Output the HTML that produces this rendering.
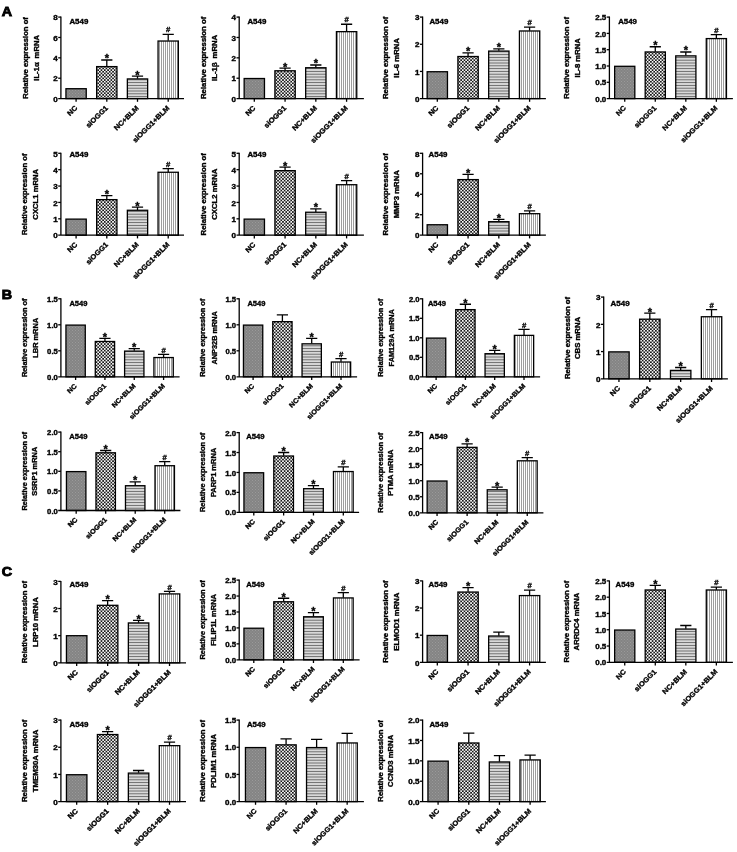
<!DOCTYPE html>
<html><head><meta charset="utf-8"><title>Figure</title>
<style>html,body{margin:0;padding:0;background:#fff}svg{display:block}text{font-family:"Liberation Sans",Arial,sans-serif;font-weight:bold;fill:#000}.t{font-size:7.0px;stroke:#000;stroke-width:.35px}.p{font-size:13px;stroke:#000;stroke-width:.9px}</style></head>
<body>
<svg width="737" height="852" viewBox="0 0 737 852">
<defs>
<pattern id="p1" width="3" height="3" patternUnits="userSpaceOnUse"><rect width="3" height="3" fill="#848484"/><rect width="1" height="1" fill="#9a9a9a"/><rect x="1.5" y="1.5" width="1" height="1" fill="#9a9a9a"/></pattern>
<pattern id="p2" width="3.3" height="3.3" patternUnits="userSpaceOnUse"><rect width="3.3" height="3.3" fill="#1a1a1a"/><rect x="0" y="0" width="1.62" height="1.62" fill="#fff"/><rect x="1.65" y="1.65" width="1.62" height="1.62" fill="#fff"/></pattern>
<pattern id="p3" width="2.8" height="2.8" patternUnits="userSpaceOnUse"><rect width="2.8" height="2.8" fill="#fff"/><rect y="0.7" width="2.8" height="1.4" fill="#6a6a6a"/></pattern>
<pattern id="p4" width="2" height="2" patternUnits="userSpaceOnUse"><rect width="2" height="2" fill="#fff"/><rect x="1" width="1" height="2" fill="#9e9e9e"/></pattern>
</defs>
<rect width="737" height="852" fill="#fff"/>
<text class="p" transform="translate(1.8,16.3) scale(1.1,1)">A</text>
<text class="p" transform="translate(1.8,299.2) scale(1.1,1)">B</text>
<text class="p" transform="translate(1.8,576.2) scale(1.1,1)">C</text>
<g>
<rect x="65.95" y="88.71" width="20.29" height="9.89" fill="url(#p1)" stroke="#000" stroke-width="1.3"/>
<path d="M76.09 98.6V101.8" stroke="#000" stroke-width="1.3"/>
<text class="t" text-anchor="end" transform="translate(77.79,108.5) rotate(-45) scale(1.08,1)">NC</text>
<path d="M106.8 66.31V59.99M101.2 59.99H112.4" stroke="#000" stroke-width="1.3" fill="none"/>
<rect x="96.65" y="66.61" width="20.29" height="31.99" fill="url(#p2)" stroke="#000" stroke-width="1.3"/>
<path d="M106.8 98.6V101.8" stroke="#000" stroke-width="1.3"/>
<text class="t" style="font-size:11px" text-anchor="middle" x="106.8" y="62.49">*</text>
<text class="t" text-anchor="end" transform="translate(108.5,108.5) rotate(-45) scale(1.08,1)">siOGG1</text>
<path d="M137.5 78.63V76.19M131.9 76.19H143.1" stroke="#000" stroke-width="1.3" fill="none"/>
<rect x="127.36" y="78.93" width="20.29" height="19.67" fill="url(#p3)" stroke="#000" stroke-width="1.3"/>
<path d="M137.5 98.6V101.8" stroke="#000" stroke-width="1.3"/>
<text class="t" style="font-size:11px" text-anchor="middle" x="137.5" y="78.69">*</text>
<text class="t" text-anchor="end" transform="translate(139.2,108.5) rotate(-45) scale(1.08,1)">NC+BLM</text>
<path d="M168.21 40.73V34.32M162.61 34.32H173.81" stroke="#000" stroke-width="1.3" fill="none"/>
<rect x="158.06" y="41.03" width="20.29" height="57.56" fill="url(#p4)" stroke="#000" stroke-width="1.3"/>
<path d="M168.21 98.6V101.8" stroke="#000" stroke-width="1.3"/>
<text class="t" style="font-size:6.4px;stroke-width:.28px" text-anchor="middle" transform="translate(168.21,32.42) scale(1.2,1)">#</text>
<text class="t" text-anchor="end" transform="translate(169.91,108.5) rotate(-45) scale(1.08,1)">siOGG1+BLM</text>
<path d="M60.9 16.6V98.6M58.2 98.6H184" stroke="#000" stroke-width="1.3" fill="none"/>
<text class="t" style="font-size:6.7px" text-anchor="end" transform="translate(57.8,101.8) scale(1.2,1)">0</text>
<path d="M58.2 78.22H60.9" stroke="#000" stroke-width="1.3"/>
<text class="t" style="font-size:6.7px" text-anchor="end" transform="translate(57.8,81.42) scale(1.2,1)">2</text>
<path d="M58.2 57.85H60.9" stroke="#000" stroke-width="1.3"/>
<text class="t" style="font-size:6.7px" text-anchor="end" transform="translate(57.8,61.05) scale(1.2,1)">4</text>
<path d="M58.2 37.47H60.9" stroke="#000" stroke-width="1.3"/>
<text class="t" style="font-size:6.7px" text-anchor="end" transform="translate(57.8,40.67) scale(1.2,1)">6</text>
<path d="M58.2 17.1H60.9" stroke="#000" stroke-width="1.3"/>
<text class="t" style="font-size:6.7px" text-anchor="end" transform="translate(57.8,20.3) scale(1.2,1)">8</text>
<text class="t" transform="translate(69.4,23.8) scale(1.13,1)">A549</text>
<text class="t" text-anchor="middle" transform="translate(28.4,57.85) rotate(-90) scale(1.1,1)">Relative expression of</text>
<text class="t" text-anchor="middle" transform="translate(38.8,57.85) rotate(-90) scale(1.1,1)" style="word-spacing:1.6px">IL-1α mRNA</text>
</g>
<g>
<rect x="244.15" y="78.52" width="20.32" height="20.07" fill="url(#p1)" stroke="#000" stroke-width="1.3"/>
<path d="M254.31 98.6V101.8" stroke="#000" stroke-width="1.3"/>
<text class="t" text-anchor="end" transform="translate(256.01,108.51) rotate(-45) scale(1.09,1)">NC</text>
<path d="M285.07 70.48V68.04M279.47 68.04H290.67" stroke="#000" stroke-width="1.3" fill="none"/>
<rect x="274.91" y="70.78" width="20.32" height="27.82" fill="url(#p2)" stroke="#000" stroke-width="1.3"/>
<path d="M285.07 98.6V101.8" stroke="#000" stroke-width="1.3"/>
<text class="t" style="font-size:11px" text-anchor="middle" x="285.07" y="70.54">*</text>
<text class="t" text-anchor="end" transform="translate(286.77,108.51) rotate(-45) scale(1.09,1)">siOGG1</text>
<path d="M315.83 67.43V64.98M310.23 64.98H321.43" stroke="#000" stroke-width="1.3" fill="none"/>
<rect x="305.67" y="67.73" width="20.32" height="30.87" fill="url(#p3)" stroke="#000" stroke-width="1.3"/>
<path d="M315.83 98.6V101.8" stroke="#000" stroke-width="1.3"/>
<text class="t" style="font-size:11px" text-anchor="middle" x="315.83" y="67.48">*</text>
<text class="t" text-anchor="end" transform="translate(317.53,108.51) rotate(-45) scale(1.09,1)">NC+BLM</text>
<path d="M346.59 31.36V24.23M340.99 24.23H352.19" stroke="#000" stroke-width="1.3" fill="none"/>
<rect x="336.43" y="31.66" width="20.32" height="66.94" fill="url(#p4)" stroke="#000" stroke-width="1.3"/>
<path d="M346.59 98.6V101.8" stroke="#000" stroke-width="1.3"/>
<text class="t" style="font-size:6.4px;stroke-width:.28px" text-anchor="middle" transform="translate(346.59,22.33) scale(1.2,1)">#</text>
<text class="t" text-anchor="end" transform="translate(348.29,108.51) rotate(-45) scale(1.09,1)">siOGG1+BLM</text>
<path d="M239.2 16.6V98.6M236.5 98.6H363.9" stroke="#000" stroke-width="1.3" fill="none"/>
<text class="t" style="font-size:6.7px" text-anchor="end" transform="translate(236.1,101.81) scale(1.2,1)">0</text>
<path d="M236.5 78.22H239.2" stroke="#000" stroke-width="1.3"/>
<text class="t" style="font-size:6.7px" text-anchor="end" transform="translate(236.1,81.43) scale(1.2,1)">1</text>
<path d="M236.5 57.85H239.2" stroke="#000" stroke-width="1.3"/>
<text class="t" style="font-size:6.7px" text-anchor="end" transform="translate(236.1,61.06) scale(1.2,1)">2</text>
<path d="M236.5 37.47H239.2" stroke="#000" stroke-width="1.3"/>
<text class="t" style="font-size:6.7px" text-anchor="end" transform="translate(236.1,40.68) scale(1.2,1)">3</text>
<path d="M236.5 17.1H239.2" stroke="#000" stroke-width="1.3"/>
<text class="t" style="font-size:6.7px" text-anchor="end" transform="translate(236.1,20.31) scale(1.2,1)">4</text>
<text class="t" transform="translate(247.4,23.8) scale(1.13,1)">A549</text>
<text class="t" text-anchor="middle" transform="translate(205.8,57.85) rotate(-90) scale(1.11,1)">Relative expression of</text>
<text class="t" text-anchor="middle" transform="translate(216.8,57.85) rotate(-90) scale(1.11,1)" style="word-spacing:1.6px">IL-1β mRNA</text>
</g>
<g>
<rect x="427.15" y="71.73" width="20.32" height="26.87" fill="url(#p1)" stroke="#000" stroke-width="1.3"/>
<path d="M437.31 98.6V101.8" stroke="#000" stroke-width="1.3"/>
<text class="t" text-anchor="end" transform="translate(439.01,108.51) rotate(-45) scale(1.09,1)">NC</text>
<path d="M468.07 56.22V52.96M462.47 52.96H473.67" stroke="#000" stroke-width="1.3" fill="none"/>
<rect x="457.91" y="56.52" width="20.32" height="42.08" fill="url(#p2)" stroke="#000" stroke-width="1.3"/>
<path d="M468.07 98.6V101.8" stroke="#000" stroke-width="1.3"/>
<text class="t" style="font-size:11px" text-anchor="middle" x="468.07" y="55.46">*</text>
<text class="t" text-anchor="end" transform="translate(469.77,108.51) rotate(-45) scale(1.09,1)">siOGG1</text>
<path d="M498.83 50.79V48.88M493.23 48.88H504.43" stroke="#000" stroke-width="1.3" fill="none"/>
<rect x="488.67" y="51.09" width="20.32" height="47.51" fill="url(#p3)" stroke="#000" stroke-width="1.3"/>
<path d="M498.83 98.6V101.8" stroke="#000" stroke-width="1.3"/>
<text class="t" style="font-size:11px" text-anchor="middle" x="498.83" y="51.38">*</text>
<text class="t" text-anchor="end" transform="translate(500.53,108.51) rotate(-45) scale(1.09,1)">NC+BLM</text>
<path d="M529.59 30.68V27.15M523.99 27.15H535.19" stroke="#000" stroke-width="1.3" fill="none"/>
<rect x="519.43" y="30.98" width="20.32" height="67.62" fill="url(#p4)" stroke="#000" stroke-width="1.3"/>
<path d="M529.59 98.6V101.8" stroke="#000" stroke-width="1.3"/>
<text class="t" style="font-size:6.4px;stroke-width:.28px" text-anchor="middle" transform="translate(529.59,25.25) scale(1.2,1)">#</text>
<text class="t" text-anchor="end" transform="translate(531.29,108.51) rotate(-45) scale(1.09,1)">siOGG1+BLM</text>
<path d="M422.6 16.6V98.6M419.9 98.6H545.9" stroke="#000" stroke-width="1.3" fill="none"/>
<text class="t" style="font-size:6.7px" text-anchor="end" transform="translate(419.5,101.81) scale(1.2,1)">0</text>
<path d="M419.9 71.43H422.6" stroke="#000" stroke-width="1.3"/>
<text class="t" style="font-size:6.7px" text-anchor="end" transform="translate(419.5,74.64) scale(1.2,1)">1</text>
<path d="M419.9 44.27H422.6" stroke="#000" stroke-width="1.3"/>
<text class="t" style="font-size:6.7px" text-anchor="end" transform="translate(419.5,47.47) scale(1.2,1)">2</text>
<path d="M419.9 17.1H422.6" stroke="#000" stroke-width="1.3"/>
<text class="t" style="font-size:6.7px" text-anchor="end" transform="translate(419.5,20.31) scale(1.2,1)">3</text>
<text class="t" transform="translate(429.4,23.8) scale(1.13,1)">A549</text>
<text class="t" text-anchor="middle" transform="translate(388.3,57.85) rotate(-90) scale(1.11,1)">Relative expression of</text>
<text class="t" text-anchor="middle" transform="translate(398.7,57.85) rotate(-90) scale(1.11,1)">IL-6 mRNA</text>
</g>
<g>
<rect x="614.65" y="66.3" width="20.17" height="32.3" fill="url(#p1)" stroke="#000" stroke-width="1.3"/>
<path d="M624.74 98.6V101.8" stroke="#000" stroke-width="1.3"/>
<text class="t" text-anchor="end" transform="translate(626.44,108.47) rotate(-45) scale(1.08,0.99)">NC</text>
<path d="M655.28 51.66V46.77M649.68 46.77H660.88" stroke="#000" stroke-width="1.3" fill="none"/>
<rect x="645.19" y="51.96" width="20.17" height="46.64" fill="url(#p2)" stroke="#000" stroke-width="1.3"/>
<path d="M655.28 98.6V101.8" stroke="#000" stroke-width="1.3"/>
<text class="t" style="font-size:11px" text-anchor="middle" x="655.28" y="49.27">*</text>
<text class="t" text-anchor="end" transform="translate(656.98,108.47) rotate(-45) scale(1.08,0.99)">siOGG1</text>
<path d="M685.82 55.57V51.98M680.22 51.98H691.42" stroke="#000" stroke-width="1.3" fill="none"/>
<rect x="675.74" y="55.87" width="20.17" height="42.73" fill="url(#p3)" stroke="#000" stroke-width="1.3"/>
<path d="M685.82 98.6V101.8" stroke="#000" stroke-width="1.3"/>
<text class="t" style="font-size:11px" text-anchor="middle" x="685.82" y="54.48">*</text>
<text class="t" text-anchor="end" transform="translate(687.52,108.47) rotate(-45) scale(1.08,0.99)">NC+BLM</text>
<path d="M716.36 38.29V34.7M710.76 34.7H721.96" stroke="#000" stroke-width="1.3" fill="none"/>
<rect x="706.28" y="38.59" width="20.17" height="60.01" fill="url(#p4)" stroke="#000" stroke-width="1.3"/>
<path d="M716.36 98.6V101.8" stroke="#000" stroke-width="1.3"/>
<text class="t" style="font-size:6.4px;stroke-width:.28px" text-anchor="middle" transform="translate(716.36,32.8) scale(1.2,1)">#</text>
<text class="t" text-anchor="end" transform="translate(718.06,108.47) rotate(-45) scale(1.08,0.99)">siOGG1+BLM</text>
<path d="M609.4 16.6V98.6M606.7 98.6H732.9" stroke="#000" stroke-width="1.3" fill="none"/>
<text class="t" style="font-size:6.7px" text-anchor="end" transform="translate(606.3,101.78) scale(1.19,0.99)">0.0</text>
<path d="M606.7 82.3H609.4" stroke="#000" stroke-width="1.3"/>
<text class="t" style="font-size:6.7px" text-anchor="end" transform="translate(606.3,85.48) scale(1.19,0.99)">0.5</text>
<path d="M606.7 66H609.4" stroke="#000" stroke-width="1.3"/>
<text class="t" style="font-size:6.7px" text-anchor="end" transform="translate(606.3,69.18) scale(1.19,0.99)">1.0</text>
<path d="M606.7 49.7H609.4" stroke="#000" stroke-width="1.3"/>
<text class="t" style="font-size:6.7px" text-anchor="end" transform="translate(606.3,52.88) scale(1.19,0.99)">1.5</text>
<path d="M606.7 33.4H609.4" stroke="#000" stroke-width="1.3"/>
<text class="t" style="font-size:6.7px" text-anchor="end" transform="translate(606.3,36.58) scale(1.19,0.99)">2.0</text>
<path d="M606.7 17.1H609.4" stroke="#000" stroke-width="1.3"/>
<text class="t" style="font-size:6.7px" text-anchor="end" transform="translate(606.3,20.28) scale(1.19,0.99)">2.5</text>
<text class="t" transform="translate(618.2,23.8) scale(1.12,0.99)">A549</text>
<text class="t" text-anchor="middle" transform="translate(569.1,57.85) rotate(-90) scale(1.1,0.99)">Relative expression of</text>
<text class="t" text-anchor="middle" transform="translate(580,57.85) rotate(-90) scale(1.1,0.99)">IL-8 mRNA</text>
</g>
<g>
<rect x="65.95" y="219.12" width="20.29" height="16.08" fill="url(#p1)" stroke="#000" stroke-width="1.3"/>
<path d="M76.09 235.2V238.4" stroke="#000" stroke-width="1.3"/>
<text class="t" text-anchor="end" transform="translate(77.79,245.1) rotate(-45) scale(1.08,1)">NC</text>
<path d="M106.8 199.33V195.56M101.2 195.56H112.4" stroke="#000" stroke-width="1.3" fill="none"/>
<rect x="96.65" y="199.63" width="20.29" height="35.57" fill="url(#p2)" stroke="#000" stroke-width="1.3"/>
<path d="M106.8 235.2V238.4" stroke="#000" stroke-width="1.3"/>
<text class="t" style="font-size:11px" text-anchor="middle" x="106.8" y="198.06">*</text>
<text class="t" text-anchor="end" transform="translate(108.5,245.1) rotate(-45) scale(1.08,1)">siOGG1</text>
<path d="M137.5 209.97V207.19M131.9 207.19H143.1" stroke="#000" stroke-width="1.3" fill="none"/>
<rect x="127.36" y="210.27" width="20.29" height="24.93" fill="url(#p3)" stroke="#000" stroke-width="1.3"/>
<path d="M137.5 235.2V238.4" stroke="#000" stroke-width="1.3"/>
<text class="t" style="font-size:11px" text-anchor="middle" x="137.5" y="209.69">*</text>
<text class="t" text-anchor="end" transform="translate(139.2,245.1) rotate(-45) scale(1.08,1)">NC+BLM</text>
<path d="M168.21 171.97V168.53M162.61 168.53H173.81" stroke="#000" stroke-width="1.3" fill="none"/>
<rect x="158.06" y="172.27" width="20.29" height="62.93" fill="url(#p4)" stroke="#000" stroke-width="1.3"/>
<path d="M168.21 235.2V238.4" stroke="#000" stroke-width="1.3"/>
<text class="t" style="font-size:6.4px;stroke-width:.28px" text-anchor="middle" transform="translate(168.21,166.63) scale(1.2,1)">#</text>
<text class="t" text-anchor="end" transform="translate(169.91,245.1) rotate(-45) scale(1.08,1)">siOGG1+BLM</text>
<path d="M60.9 152.8V235.2M58.2 235.2H184" stroke="#000" stroke-width="1.3" fill="none"/>
<text class="t" style="font-size:6.7px" text-anchor="end" transform="translate(57.8,238.4) scale(1.2,1)">0</text>
<path d="M58.2 218.82H60.9" stroke="#000" stroke-width="1.3"/>
<text class="t" style="font-size:6.7px" text-anchor="end" transform="translate(57.8,222.02) scale(1.2,1)">1</text>
<path d="M58.2 202.44H60.9" stroke="#000" stroke-width="1.3"/>
<text class="t" style="font-size:6.7px" text-anchor="end" transform="translate(57.8,205.64) scale(1.2,1)">2</text>
<path d="M58.2 186.06H60.9" stroke="#000" stroke-width="1.3"/>
<text class="t" style="font-size:6.7px" text-anchor="end" transform="translate(57.8,189.26) scale(1.2,1)">3</text>
<path d="M58.2 169.68H60.9" stroke="#000" stroke-width="1.3"/>
<text class="t" style="font-size:6.7px" text-anchor="end" transform="translate(57.8,172.88) scale(1.2,1)">4</text>
<path d="M58.2 153.3H60.9" stroke="#000" stroke-width="1.3"/>
<text class="t" style="font-size:6.7px" text-anchor="end" transform="translate(57.8,156.5) scale(1.2,1)">5</text>
<text class="t" transform="translate(69.4,157.3) scale(1.13,1)">A549</text>
<text class="t" text-anchor="middle" transform="translate(27.4,194.25) rotate(-90) scale(1.1,1)">Relative expression of</text>
<text class="t" text-anchor="middle" transform="translate(38.3,194.25) rotate(-90) scale(1.1,1)">CXCL1 mRNA</text>
</g>
<g>
<rect x="244.15" y="219.12" width="20.32" height="16.08" fill="url(#p1)" stroke="#000" stroke-width="1.3"/>
<path d="M254.31 235.2V238.4" stroke="#000" stroke-width="1.3"/>
<text class="t" text-anchor="end" transform="translate(256.01,245.11) rotate(-45) scale(1.09,1)">NC</text>
<path d="M285.07 170.34V167.06M279.47 167.06H290.67" stroke="#000" stroke-width="1.3" fill="none"/>
<rect x="274.91" y="170.64" width="20.32" height="64.56" fill="url(#p2)" stroke="#000" stroke-width="1.3"/>
<path d="M285.07 235.2V238.4" stroke="#000" stroke-width="1.3"/>
<text class="t" style="font-size:11px" text-anchor="middle" x="285.07" y="169.56">*</text>
<text class="t" text-anchor="end" transform="translate(286.77,245.11) rotate(-45) scale(1.09,1)">siOGG1</text>
<path d="M315.83 211.94V208.83M310.23 208.83H321.43" stroke="#000" stroke-width="1.3" fill="none"/>
<rect x="305.67" y="212.24" width="20.32" height="22.96" fill="url(#p3)" stroke="#000" stroke-width="1.3"/>
<path d="M315.83 235.2V238.4" stroke="#000" stroke-width="1.3"/>
<text class="t" style="font-size:11px" text-anchor="middle" x="315.83" y="211.33">*</text>
<text class="t" text-anchor="end" transform="translate(317.53,245.11) rotate(-45) scale(1.09,1)">NC+BLM</text>
<path d="M346.59 184.42V180.65M340.99 180.65H352.19" stroke="#000" stroke-width="1.3" fill="none"/>
<rect x="336.43" y="184.72" width="20.32" height="50.48" fill="url(#p4)" stroke="#000" stroke-width="1.3"/>
<path d="M346.59 235.2V238.4" stroke="#000" stroke-width="1.3"/>
<text class="t" style="font-size:6.4px;stroke-width:.28px" text-anchor="middle" transform="translate(346.59,178.75) scale(1.2,1)">#</text>
<text class="t" text-anchor="end" transform="translate(348.29,245.11) rotate(-45) scale(1.09,1)">siOGG1+BLM</text>
<path d="M239.2 152.8V235.2M236.5 235.2H363.9" stroke="#000" stroke-width="1.3" fill="none"/>
<text class="t" style="font-size:6.7px" text-anchor="end" transform="translate(236.1,238.41) scale(1.2,1)">0</text>
<path d="M236.5 218.82H239.2" stroke="#000" stroke-width="1.3"/>
<text class="t" style="font-size:6.7px" text-anchor="end" transform="translate(236.1,222.03) scale(1.2,1)">1</text>
<path d="M236.5 202.44H239.2" stroke="#000" stroke-width="1.3"/>
<text class="t" style="font-size:6.7px" text-anchor="end" transform="translate(236.1,205.65) scale(1.2,1)">2</text>
<path d="M236.5 186.06H239.2" stroke="#000" stroke-width="1.3"/>
<text class="t" style="font-size:6.7px" text-anchor="end" transform="translate(236.1,189.27) scale(1.2,1)">3</text>
<path d="M236.5 169.68H239.2" stroke="#000" stroke-width="1.3"/>
<text class="t" style="font-size:6.7px" text-anchor="end" transform="translate(236.1,172.89) scale(1.2,1)">4</text>
<path d="M236.5 153.3H239.2" stroke="#000" stroke-width="1.3"/>
<text class="t" style="font-size:6.7px" text-anchor="end" transform="translate(236.1,156.51) scale(1.2,1)">5</text>
<text class="t" transform="translate(247.4,157.3) scale(1.13,1)">A549</text>
<text class="t" text-anchor="middle" transform="translate(205.8,194.25) rotate(-90) scale(1.11,1)">Relative expression of</text>
<text class="t" text-anchor="middle" transform="translate(216.8,194.25) rotate(-90) scale(1.11,1)">CXCL2 mRNA</text>
</g>
<g>
<rect x="427.15" y="224.75" width="20.32" height="10.45" fill="url(#p1)" stroke="#000" stroke-width="1.3"/>
<path d="M437.31 235.2V238.4" stroke="#000" stroke-width="1.3"/>
<text class="t" text-anchor="end" transform="translate(439.01,245.11) rotate(-45) scale(1.09,1)">NC</text>
<path d="M468.07 179.3V174.39M462.47 174.39H473.67" stroke="#000" stroke-width="1.3" fill="none"/>
<rect x="457.91" y="179.6" width="20.32" height="55.6" fill="url(#p2)" stroke="#000" stroke-width="1.3"/>
<path d="M468.07 235.2V238.4" stroke="#000" stroke-width="1.3"/>
<text class="t" style="font-size:11px" text-anchor="middle" x="468.07" y="176.89">*</text>
<text class="t" text-anchor="end" transform="translate(469.77,245.11) rotate(-45) scale(1.09,1)">siOGG1</text>
<path d="M498.83 221.38V219.43M493.23 219.43H504.43" stroke="#000" stroke-width="1.3" fill="none"/>
<rect x="488.67" y="221.68" width="20.32" height="13.52" fill="url(#p3)" stroke="#000" stroke-width="1.3"/>
<path d="M498.83 235.2V238.4" stroke="#000" stroke-width="1.3"/>
<text class="t" style="font-size:11px" text-anchor="middle" x="498.83" y="221.93">*</text>
<text class="t" text-anchor="end" transform="translate(500.53,245.11) rotate(-45) scale(1.09,1)">NC+BLM</text>
<path d="M529.59 213.39V210.94M523.99 210.94H535.19" stroke="#000" stroke-width="1.3" fill="none"/>
<rect x="519.43" y="213.69" width="20.32" height="21.51" fill="url(#p4)" stroke="#000" stroke-width="1.3"/>
<path d="M529.59 235.2V238.4" stroke="#000" stroke-width="1.3"/>
<text class="t" style="font-size:6.4px;stroke-width:.28px" text-anchor="middle" transform="translate(529.59,209.04) scale(1.2,1)">#</text>
<text class="t" text-anchor="end" transform="translate(531.29,245.11) rotate(-45) scale(1.09,1)">siOGG1+BLM</text>
<path d="M422.6 152.8V235.2M419.9 235.2H545.9" stroke="#000" stroke-width="1.3" fill="none"/>
<text class="t" style="font-size:6.7px" text-anchor="end" transform="translate(419.5,238.41) scale(1.2,1)">0</text>
<path d="M419.9 214.72H422.6" stroke="#000" stroke-width="1.3"/>
<text class="t" style="font-size:6.7px" text-anchor="end" transform="translate(419.5,217.93) scale(1.2,1)">2</text>
<path d="M419.9 194.25H422.6" stroke="#000" stroke-width="1.3"/>
<text class="t" style="font-size:6.7px" text-anchor="end" transform="translate(419.5,197.46) scale(1.2,1)">4</text>
<path d="M419.9 173.78H422.6" stroke="#000" stroke-width="1.3"/>
<text class="t" style="font-size:6.7px" text-anchor="end" transform="translate(419.5,176.98) scale(1.2,1)">6</text>
<path d="M419.9 153.3H422.6" stroke="#000" stroke-width="1.3"/>
<text class="t" style="font-size:6.7px" text-anchor="end" transform="translate(419.5,156.51) scale(1.2,1)">8</text>
<text class="t" transform="translate(428.6,157.3) scale(1.13,1)">A549</text>
<text class="t" text-anchor="middle" transform="translate(388.3,194.25) rotate(-90) scale(1.11,1)">Relative expression of</text>
<text class="t" text-anchor="middle" transform="translate(398.7,194.25) rotate(-90) scale(1.11,1)">MMP3 mRNA</text>
</g>
<g>
<rect x="65.95" y="325.1" width="19.32" height="51.7" fill="url(#p1)" stroke="#000" stroke-width="1.3"/>
<path d="M75.61 376.8V380" stroke="#000" stroke-width="1.3"/>
<text class="t" text-anchor="end" transform="translate(77.31,386.43) rotate(-45) scale(1.04,0.95)">NC</text>
<path d="M104.94 341.18V338.32M99.34 338.32H110.54" stroke="#000" stroke-width="1.3" fill="none"/>
<rect x="95.28" y="341.48" width="19.32" height="35.32" fill="url(#p2)" stroke="#000" stroke-width="1.3"/>
<path d="M104.94 376.8V380" stroke="#000" stroke-width="1.3"/>
<text class="t" style="font-size:11px" text-anchor="middle" x="104.94" y="340.82">*</text>
<text class="t" text-anchor="end" transform="translate(106.64,386.43) rotate(-45) scale(1.04,0.95)">siOGG1</text>
<path d="M134.26 350.8V348.72M128.66 348.72H139.86" stroke="#000" stroke-width="1.3" fill="none"/>
<rect x="124.61" y="351.1" width="19.32" height="25.7" fill="url(#p3)" stroke="#000" stroke-width="1.3"/>
<path d="M134.26 376.8V380" stroke="#000" stroke-width="1.3"/>
<text class="t" style="font-size:11px" text-anchor="middle" x="134.26" y="351.22">*</text>
<text class="t" text-anchor="end" transform="translate(135.96,386.43) rotate(-45) scale(1.04,0.95)">NC+BLM</text>
<path d="M163.59 357.25V354.44M157.99 354.44H169.19" stroke="#000" stroke-width="1.3" fill="none"/>
<rect x="153.93" y="357.55" width="19.32" height="19.25" fill="url(#p4)" stroke="#000" stroke-width="1.3"/>
<path d="M163.59 376.8V380" stroke="#000" stroke-width="1.3"/>
<text class="t" style="font-size:6.4px;stroke-width:.28px" text-anchor="middle" transform="translate(163.59,352.54) scale(1.2,1)">#</text>
<text class="t" text-anchor="end" transform="translate(165.29,386.43) rotate(-45) scale(1.04,0.95)">siOGG1+BLM</text>
<path d="M60.9 298.3V376.8M58.2 376.8H179.6" stroke="#000" stroke-width="1.3" fill="none"/>
<text class="t" style="font-size:6.7px" text-anchor="end" transform="translate(57.8,379.86) scale(1.15,0.95)">0.0</text>
<path d="M58.2 350.8H60.9" stroke="#000" stroke-width="1.3"/>
<text class="t" style="font-size:6.7px" text-anchor="end" transform="translate(57.8,353.86) scale(1.15,0.95)">0.5</text>
<path d="M58.2 324.8H60.9" stroke="#000" stroke-width="1.3"/>
<text class="t" style="font-size:6.7px" text-anchor="end" transform="translate(57.8,327.86) scale(1.15,0.95)">1.0</text>
<path d="M58.2 298.8H60.9" stroke="#000" stroke-width="1.3"/>
<text class="t" style="font-size:6.7px" text-anchor="end" transform="translate(57.8,301.86) scale(1.15,0.95)">1.5</text>
<text class="t" transform="translate(69.4,305.5) scale(1.08,0.95)">A549</text>
<text class="t" text-anchor="middle" transform="translate(26.6,337.8) rotate(-90) scale(1.06,0.95)">Relative expression of</text>
<text class="t" text-anchor="middle" transform="translate(38.3,337.8) rotate(-90) scale(1.06,0.95)">LBR mRNA</text>
</g>
<g>
<rect x="243.45" y="325.1" width="19.3" height="51.7" fill="url(#p1)" stroke="#000" stroke-width="1.3"/>
<path d="M253.1 376.8V380" stroke="#000" stroke-width="1.3"/>
<text class="t" text-anchor="end" transform="translate(254.8,386.42) rotate(-45) scale(1.04,0.95)">NC</text>
<path d="M282.4 321.37V314.92M276.8 314.92H288" stroke="#000" stroke-width="1.3" fill="none"/>
<rect x="272.75" y="321.67" width="19.3" height="55.13" fill="url(#p2)" stroke="#000" stroke-width="1.3"/>
<path d="M282.4 376.8V380" stroke="#000" stroke-width="1.3"/>
<text class="t" text-anchor="end" transform="translate(284.1,386.42) rotate(-45) scale(1.04,0.95)">siOGG1</text>
<path d="M311.7 343.52V338.32M306.1 338.32H317.3" stroke="#000" stroke-width="1.3" fill="none"/>
<rect x="302.05" y="343.82" width="19.3" height="32.98" fill="url(#p3)" stroke="#000" stroke-width="1.3"/>
<path d="M311.7 376.8V380" stroke="#000" stroke-width="1.3"/>
<text class="t" style="font-size:11px" text-anchor="middle" x="311.7" y="340.82">*</text>
<text class="t" text-anchor="end" transform="translate(313.4,386.42) rotate(-45) scale(1.04,0.95)">NC+BLM</text>
<path d="M341 361.72V358.6M335.4 358.6H346.6" stroke="#000" stroke-width="1.3" fill="none"/>
<rect x="331.35" y="362.02" width="19.3" height="14.78" fill="url(#p4)" stroke="#000" stroke-width="1.3"/>
<path d="M341 376.8V380" stroke="#000" stroke-width="1.3"/>
<text class="t" style="font-size:6.4px;stroke-width:.28px" text-anchor="middle" transform="translate(341,356.7) scale(1.2,1)">#</text>
<text class="t" text-anchor="end" transform="translate(342.7,386.42) rotate(-45) scale(1.04,0.95)">siOGG1+BLM</text>
<path d="M239.2 298.3V376.8M236.5 376.8H357.1" stroke="#000" stroke-width="1.3" fill="none"/>
<text class="t" style="font-size:6.7px" text-anchor="end" transform="translate(236.1,379.85) scale(1.14,0.95)">0.0</text>
<path d="M236.5 350.8H239.2" stroke="#000" stroke-width="1.3"/>
<text class="t" style="font-size:6.7px" text-anchor="end" transform="translate(236.1,353.85) scale(1.14,0.95)">0.5</text>
<path d="M236.5 324.8H239.2" stroke="#000" stroke-width="1.3"/>
<text class="t" style="font-size:6.7px" text-anchor="end" transform="translate(236.1,327.85) scale(1.14,0.95)">1.0</text>
<path d="M236.5 298.8H239.2" stroke="#000" stroke-width="1.3"/>
<text class="t" style="font-size:6.7px" text-anchor="end" transform="translate(236.1,301.85) scale(1.14,0.95)">1.5</text>
<text class="t" transform="translate(247.4,305.5) scale(1.08,0.95)">A549</text>
<text class="t" text-anchor="middle" transform="translate(205.3,337.8) rotate(-90) scale(1.05,0.95)">Relative expression of</text>
<text class="t" text-anchor="middle" transform="translate(216.8,337.8) rotate(-90) scale(1.05,0.95)">ANP32B mRNA</text>
</g>
<g>
<rect x="426.45" y="338.1" width="19.3" height="38.7" fill="url(#p1)" stroke="#000" stroke-width="1.3"/>
<path d="M436.1 376.8V380" stroke="#000" stroke-width="1.3"/>
<text class="t" text-anchor="end" transform="translate(437.8,386.42) rotate(-45) scale(1.04,0.95)">NC</text>
<path d="M465.4 309.33V304.26M459.8 304.26H471" stroke="#000" stroke-width="1.3" fill="none"/>
<rect x="455.75" y="309.63" width="19.3" height="67.17" fill="url(#p2)" stroke="#000" stroke-width="1.3"/>
<path d="M465.4 376.8V380" stroke="#000" stroke-width="1.3"/>
<text class="t" style="font-size:11px" text-anchor="middle" x="465.4" y="306.76">*</text>
<text class="t" text-anchor="end" transform="translate(467.1,386.42) rotate(-45) scale(1.04,0.95)">siOGG1</text>
<path d="M494.7 353.4V350.28M489.1 350.28H500.3" stroke="#000" stroke-width="1.3" fill="none"/>
<rect x="485.05" y="353.7" width="19.3" height="23.1" fill="url(#p3)" stroke="#000" stroke-width="1.3"/>
<path d="M494.7 376.8V380" stroke="#000" stroke-width="1.3"/>
<text class="t" style="font-size:11px" text-anchor="middle" x="494.7" y="352.78">*</text>
<text class="t" text-anchor="end" transform="translate(496.4,386.42) rotate(-45) scale(1.04,0.95)">NC+BLM</text>
<path d="M524 335.07V329.42M518.4 329.42H529.6" stroke="#000" stroke-width="1.3" fill="none"/>
<rect x="514.35" y="335.37" width="19.3" height="41.43" fill="url(#p4)" stroke="#000" stroke-width="1.3"/>
<path d="M524 376.8V380" stroke="#000" stroke-width="1.3"/>
<text class="t" style="font-size:6.4px;stroke-width:.28px" text-anchor="middle" transform="translate(524,327.52) scale(1.2,1)">#</text>
<text class="t" text-anchor="end" transform="translate(525.7,386.42) rotate(-45) scale(1.04,0.95)">siOGG1+BLM</text>
<path d="M422.6 298.3V376.8M419.9 376.8H540.1" stroke="#000" stroke-width="1.3" fill="none"/>
<text class="t" style="font-size:6.7px" text-anchor="end" transform="translate(419.5,379.85) scale(1.14,0.95)">0.0</text>
<path d="M419.9 357.3H422.6" stroke="#000" stroke-width="1.3"/>
<text class="t" style="font-size:6.7px" text-anchor="end" transform="translate(419.5,360.35) scale(1.14,0.95)">0.5</text>
<path d="M419.9 337.8H422.6" stroke="#000" stroke-width="1.3"/>
<text class="t" style="font-size:6.7px" text-anchor="end" transform="translate(419.5,340.85) scale(1.14,0.95)">1.0</text>
<path d="M419.9 318.3H422.6" stroke="#000" stroke-width="1.3"/>
<text class="t" style="font-size:6.7px" text-anchor="end" transform="translate(419.5,321.35) scale(1.14,0.95)">1.5</text>
<path d="M419.9 298.8H422.6" stroke="#000" stroke-width="1.3"/>
<text class="t" style="font-size:6.7px" text-anchor="end" transform="translate(419.5,301.85) scale(1.14,0.95)">2.0</text>
<text class="t" transform="translate(427.9,305.5) scale(1.08,0.95)">A549</text>
<text class="t" text-anchor="middle" transform="translate(383.3,337.8) rotate(-90) scale(1.05,0.95)">Relative expression of</text>
<text class="t" text-anchor="middle" transform="translate(393.7,337.8) rotate(-90) scale(1.05,0.95)">FAM129A mRNA</text>
</g>
<g>
<rect x="608.75" y="351.87" width="20.4" height="26.93" fill="url(#p1)" stroke="#000" stroke-width="1.3"/>
<path d="M618.95 378.8V382" stroke="#000" stroke-width="1.3"/>
<text class="t" text-anchor="end" transform="translate(620.65,388.73) rotate(-45) scale(1.09,1)">NC</text>
<path d="M649.82 318.89V313.17M644.22 313.17H655.42" stroke="#000" stroke-width="1.3" fill="none"/>
<rect x="639.62" y="319.19" width="20.4" height="59.61" fill="url(#p2)" stroke="#000" stroke-width="1.3"/>
<path d="M649.82 378.8V382" stroke="#000" stroke-width="1.3"/>
<text class="t" style="font-size:11px" text-anchor="middle" x="649.82" y="315.67">*</text>
<text class="t" text-anchor="end" transform="translate(651.52,388.73) rotate(-45) scale(1.09,1)">siOGG1</text>
<path d="M680.68 370.09V367.5M675.08 367.5H686.28" stroke="#000" stroke-width="1.3" fill="none"/>
<rect x="670.48" y="370.39" width="20.4" height="8.41" fill="url(#p3)" stroke="#000" stroke-width="1.3"/>
<path d="M680.68 378.8V382" stroke="#000" stroke-width="1.3"/>
<text class="t" style="font-size:11px" text-anchor="middle" x="680.68" y="370">*</text>
<text class="t" text-anchor="end" transform="translate(682.38,388.73) rotate(-45) scale(1.09,1)">NC+BLM</text>
<path d="M711.55 316.44V309.63M705.95 309.63H717.15" stroke="#000" stroke-width="1.3" fill="none"/>
<rect x="701.35" y="316.74" width="20.4" height="62.06" fill="url(#p4)" stroke="#000" stroke-width="1.3"/>
<path d="M711.55 378.8V382" stroke="#000" stroke-width="1.3"/>
<text class="t" style="font-size:6.4px;stroke-width:.28px" text-anchor="middle" transform="translate(711.55,307.73) scale(1.2,1)">#</text>
<text class="t" text-anchor="end" transform="translate(713.25,388.73) rotate(-45) scale(1.09,1)">siOGG1+BLM</text>
<path d="M603.7 296.6V378.8M601 378.8H727.9" stroke="#000" stroke-width="1.3" fill="none"/>
<text class="t" style="font-size:6.7px" text-anchor="end" transform="translate(600.6,382.02) scale(1.21,1)">0</text>
<path d="M601 351.57H603.7" stroke="#000" stroke-width="1.3"/>
<text class="t" style="font-size:6.7px" text-anchor="end" transform="translate(600.6,354.78) scale(1.21,1)">1</text>
<path d="M601 324.33H603.7" stroke="#000" stroke-width="1.3"/>
<text class="t" style="font-size:6.7px" text-anchor="end" transform="translate(600.6,327.55) scale(1.21,1)">2</text>
<path d="M601 297.1H603.7" stroke="#000" stroke-width="1.3"/>
<text class="t" style="font-size:6.7px" text-anchor="end" transform="translate(600.6,300.32) scale(1.21,1)">3</text>
<text class="t" transform="translate(610.6,305.5) scale(1.14,1)">A549</text>
<text class="t" text-anchor="middle" transform="translate(569.8,337.95) rotate(-90) scale(1.11,1)">Relative expression of</text>
<text class="t" text-anchor="middle" transform="translate(580.2,337.95) rotate(-90) scale(1.11,1)">CBS mRNA</text>
</g>
<g>
<rect x="66.45" y="471.6" width="19.45" height="38.9" fill="url(#p1)" stroke="#000" stroke-width="1.3"/>
<path d="M76.18 510.5V513.7" stroke="#000" stroke-width="1.3"/>
<text class="t" text-anchor="end" transform="translate(77.88,520.17) rotate(-45) scale(1.04,0.96)">NC</text>
<path d="M105.69 452.48V450.52M100.09 450.52H111.29" stroke="#000" stroke-width="1.3" fill="none"/>
<rect x="95.97" y="452.78" width="19.45" height="57.72" fill="url(#p2)" stroke="#000" stroke-width="1.3"/>
<path d="M105.69 510.5V513.7" stroke="#000" stroke-width="1.3"/>
<text class="t" style="font-size:11px" text-anchor="middle" x="105.69" y="453.02">*</text>
<text class="t" text-anchor="end" transform="translate(107.39,520.17) rotate(-45) scale(1.04,0.96)">siOGG1</text>
<path d="M135.21 485.41V481.88M129.61 481.88H140.81" stroke="#000" stroke-width="1.3" fill="none"/>
<rect x="125.48" y="485.71" width="19.45" height="24.79" fill="url(#p3)" stroke="#000" stroke-width="1.3"/>
<path d="M135.21 510.5V513.7" stroke="#000" stroke-width="1.3"/>
<text class="t" style="font-size:11px" text-anchor="middle" x="135.21" y="484.38">*</text>
<text class="t" text-anchor="end" transform="translate(136.91,520.17) rotate(-45) scale(1.04,0.96)">NC+BLM</text>
<path d="M164.72 465.42V461.7M159.12 461.7H170.32" stroke="#000" stroke-width="1.3" fill="none"/>
<rect x="155" y="465.72" width="19.45" height="44.78" fill="url(#p4)" stroke="#000" stroke-width="1.3"/>
<path d="M164.72 510.5V513.7" stroke="#000" stroke-width="1.3"/>
<text class="t" style="font-size:6.4px;stroke-width:.28px" text-anchor="middle" transform="translate(164.72,459.8) scale(1.2,1)">#</text>
<text class="t" text-anchor="end" transform="translate(166.42,520.17) rotate(-45) scale(1.04,0.96)">siOGG1+BLM</text>
<path d="M60.9 431.6V510.5M58.2 510.5H180.4" stroke="#000" stroke-width="1.3" fill="none"/>
<text class="t" style="font-size:6.7px" text-anchor="end" transform="translate(57.8,513.58) scale(1.15,0.96)">0.0</text>
<path d="M58.2 490.9H60.9" stroke="#000" stroke-width="1.3"/>
<text class="t" style="font-size:6.7px" text-anchor="end" transform="translate(57.8,493.98) scale(1.15,0.96)">0.5</text>
<path d="M58.2 471.3H60.9" stroke="#000" stroke-width="1.3"/>
<text class="t" style="font-size:6.7px" text-anchor="end" transform="translate(57.8,474.38) scale(1.15,0.96)">1.0</text>
<path d="M58.2 451.7H60.9" stroke="#000" stroke-width="1.3"/>
<text class="t" style="font-size:6.7px" text-anchor="end" transform="translate(57.8,454.78) scale(1.15,0.96)">1.5</text>
<path d="M58.2 432.1H60.9" stroke="#000" stroke-width="1.3"/>
<text class="t" style="font-size:6.7px" text-anchor="end" transform="translate(57.8,435.18) scale(1.15,0.96)">2.0</text>
<text class="t" transform="translate(69.2,439.3) scale(1.09,0.96)">A549</text>
<text class="t" text-anchor="middle" transform="translate(26.6,471.3) rotate(-90) scale(1.06,0.96)">Relative expression of</text>
<text class="t" text-anchor="middle" transform="translate(37,471.3) rotate(-90) scale(1.06,0.96)">SSRP1 mRNA</text>
</g>
<g>
<rect x="243.95" y="472.75" width="19.68" height="39.55" fill="url(#p1)" stroke="#000" stroke-width="1.3"/>
<path d="M253.79 512.3V515.5" stroke="#000" stroke-width="1.3"/>
<text class="t" text-anchor="end" transform="translate(255.49,522.03) rotate(-45) scale(1.05,0.97)">NC</text>
<path d="M283.63 455.71V452.52M278.03 452.52H289.23" stroke="#000" stroke-width="1.3" fill="none"/>
<rect x="273.79" y="456.01" width="19.68" height="56.29" fill="url(#p2)" stroke="#000" stroke-width="1.3"/>
<path d="M283.63 512.3V515.5" stroke="#000" stroke-width="1.3"/>
<text class="t" style="font-size:11px" text-anchor="middle" x="283.63" y="455.02">*</text>
<text class="t" text-anchor="end" transform="translate(285.33,522.03) rotate(-45) scale(1.05,0.97)">siOGG1</text>
<path d="M313.47 488.39V485.6M307.87 485.6H319.07" stroke="#000" stroke-width="1.3" fill="none"/>
<rect x="303.63" y="488.69" width="19.68" height="23.61" fill="url(#p3)" stroke="#000" stroke-width="1.3"/>
<path d="M313.47 512.3V515.5" stroke="#000" stroke-width="1.3"/>
<text class="t" style="font-size:11px" text-anchor="middle" x="313.47" y="488.1">*</text>
<text class="t" text-anchor="end" transform="translate(315.17,522.03) rotate(-45) scale(1.05,0.97)">NC+BLM</text>
<path d="M343.31 471.25V466.87M337.71 466.87H348.91" stroke="#000" stroke-width="1.3" fill="none"/>
<rect x="333.47" y="471.55" width="19.68" height="40.75" fill="url(#p4)" stroke="#000" stroke-width="1.3"/>
<path d="M343.31 512.3V515.5" stroke="#000" stroke-width="1.3"/>
<text class="t" style="font-size:6.4px;stroke-width:.28px" text-anchor="middle" transform="translate(343.31,464.97) scale(1.2,1)">#</text>
<text class="t" text-anchor="end" transform="translate(345.01,522.03) rotate(-45) scale(1.05,0.97)">siOGG1+BLM</text>
<path d="M239.2 432.1V512.3M236.5 512.3H359.1" stroke="#000" stroke-width="1.3" fill="none"/>
<text class="t" style="font-size:6.7px" text-anchor="end" transform="translate(236.1,515.41) scale(1.17,0.97)">0.0</text>
<path d="M236.5 492.38H239.2" stroke="#000" stroke-width="1.3"/>
<text class="t" style="font-size:6.7px" text-anchor="end" transform="translate(236.1,495.49) scale(1.17,0.97)">0.5</text>
<path d="M236.5 472.45H239.2" stroke="#000" stroke-width="1.3"/>
<text class="t" style="font-size:6.7px" text-anchor="end" transform="translate(236.1,475.56) scale(1.17,0.97)">1.0</text>
<path d="M236.5 452.52H239.2" stroke="#000" stroke-width="1.3"/>
<text class="t" style="font-size:6.7px" text-anchor="end" transform="translate(236.1,455.64) scale(1.17,0.97)">1.5</text>
<path d="M236.5 432.6H239.2" stroke="#000" stroke-width="1.3"/>
<text class="t" style="font-size:6.7px" text-anchor="end" transform="translate(236.1,435.71) scale(1.17,0.97)">2.0</text>
<text class="t" transform="translate(246.2,439.3) scale(1.1,0.97)">A549</text>
<text class="t" text-anchor="middle" transform="translate(205.3,472.45) rotate(-90) scale(1.07,0.97)">Relative expression of</text>
<text class="t" text-anchor="middle" transform="translate(215.7,472.45) rotate(-90) scale(1.07,0.97)">PARP1 mRNA</text>
</g>
<g>
<rect x="427.15" y="481.02" width="19.83" height="31.78" fill="url(#p1)" stroke="#000" stroke-width="1.3"/>
<path d="M437.06 512.8V516" stroke="#000" stroke-width="1.3"/>
<text class="t" text-anchor="end" transform="translate(438.76,522.57) rotate(-45) scale(1.06,0.98)">NC</text>
<path d="M467.12 447.04V443.83M461.52 443.83H472.72" stroke="#000" stroke-width="1.3" fill="none"/>
<rect x="457.21" y="447.34" width="19.83" height="65.46" fill="url(#p2)" stroke="#000" stroke-width="1.3"/>
<path d="M467.12 512.8V516" stroke="#000" stroke-width="1.3"/>
<text class="t" style="font-size:11px" text-anchor="middle" x="467.12" y="446.33">*</text>
<text class="t" text-anchor="end" transform="translate(468.82,522.57) rotate(-45) scale(1.06,0.98)">siOGG1</text>
<path d="M497.18 489.48V487.14M491.58 487.14H502.78" stroke="#000" stroke-width="1.3" fill="none"/>
<rect x="487.26" y="489.78" width="19.83" height="23.02" fill="url(#p3)" stroke="#000" stroke-width="1.3"/>
<path d="M497.18 512.8V516" stroke="#000" stroke-width="1.3"/>
<text class="t" style="font-size:11px" text-anchor="middle" x="497.18" y="489.64">*</text>
<text class="t" text-anchor="end" transform="translate(498.88,522.57) rotate(-45) scale(1.06,0.98)">NC+BLM</text>
<path d="M527.24 460.51V457.62M521.64 457.62H532.84" stroke="#000" stroke-width="1.3" fill="none"/>
<rect x="517.32" y="460.81" width="19.83" height="51.99" fill="url(#p4)" stroke="#000" stroke-width="1.3"/>
<path d="M527.24 512.8V516" stroke="#000" stroke-width="1.3"/>
<text class="t" style="font-size:6.4px;stroke-width:.28px" text-anchor="middle" transform="translate(527.24,455.72) scale(1.2,1)">#</text>
<text class="t" text-anchor="end" transform="translate(528.94,522.57) rotate(-45) scale(1.06,0.98)">siOGG1+BLM</text>
<path d="M422.6 432.1V512.8M419.9 512.8H543.4" stroke="#000" stroke-width="1.3" fill="none"/>
<text class="t" style="font-size:6.7px" text-anchor="end" transform="translate(419.5,515.93) scale(1.17,0.98)">0.0</text>
<path d="M419.9 496.76H422.6" stroke="#000" stroke-width="1.3"/>
<text class="t" style="font-size:6.7px" text-anchor="end" transform="translate(419.5,499.89) scale(1.17,0.98)">0.5</text>
<path d="M419.9 480.72H422.6" stroke="#000" stroke-width="1.3"/>
<text class="t" style="font-size:6.7px" text-anchor="end" transform="translate(419.5,483.85) scale(1.17,0.98)">1.0</text>
<path d="M419.9 464.68H422.6" stroke="#000" stroke-width="1.3"/>
<text class="t" style="font-size:6.7px" text-anchor="end" transform="translate(419.5,467.81) scale(1.17,0.98)">1.5</text>
<path d="M419.9 448.64H422.6" stroke="#000" stroke-width="1.3"/>
<text class="t" style="font-size:6.7px" text-anchor="end" transform="translate(419.5,451.77) scale(1.17,0.98)">2.0</text>
<path d="M419.9 432.6H422.6" stroke="#000" stroke-width="1.3"/>
<text class="t" style="font-size:6.7px" text-anchor="end" transform="translate(419.5,435.73) scale(1.17,0.98)">2.5</text>
<text class="t" transform="translate(429.1,439.3) scale(1.11,0.98)">A549</text>
<text class="t" text-anchor="middle" transform="translate(382.8,472.7) rotate(-90) scale(1.08,0.98)">Relative expression of</text>
<text class="t" text-anchor="middle" transform="translate(393.2,472.7) rotate(-90) scale(1.08,0.98)">PTMA mRNA</text>
</g>
<g>
<rect x="66.45" y="635.7" width="20.46" height="27.1" fill="url(#p1)" stroke="#000" stroke-width="1.3"/>
<path d="M76.68 662.8V666" stroke="#000" stroke-width="1.3"/>
<text class="t" text-anchor="end" transform="translate(78.38,672.75) rotate(-45) scale(1.09,1.01)">NC</text>
<path d="M107.63 605.01V600.66M102.03 600.66H113.23" stroke="#000" stroke-width="1.3" fill="none"/>
<rect x="97.4" y="605.31" width="20.46" height="57.49" fill="url(#p2)" stroke="#000" stroke-width="1.3"/>
<path d="M107.63 662.8V666" stroke="#000" stroke-width="1.3"/>
<text class="t" style="font-size:11px" text-anchor="middle" x="107.63" y="603.16">*</text>
<text class="t" text-anchor="end" transform="translate(109.33,672.75) rotate(-45) scale(1.09,1.01)">siOGG1</text>
<path d="M138.57 622.64V620.47M132.97 620.47H144.17" stroke="#000" stroke-width="1.3" fill="none"/>
<rect x="128.35" y="622.94" width="20.46" height="39.86" fill="url(#p3)" stroke="#000" stroke-width="1.3"/>
<path d="M138.57 662.8V666" stroke="#000" stroke-width="1.3"/>
<text class="t" style="font-size:11px" text-anchor="middle" x="138.57" y="622.97">*</text>
<text class="t" text-anchor="end" transform="translate(140.27,672.75) rotate(-45) scale(1.09,1.01)">NC+BLM</text>
<path d="M169.52 593.61V591.44M163.92 591.44H175.12" stroke="#000" stroke-width="1.3" fill="none"/>
<rect x="159.29" y="593.91" width="20.46" height="68.89" fill="url(#p4)" stroke="#000" stroke-width="1.3"/>
<path d="M169.52 662.8V666" stroke="#000" stroke-width="1.3"/>
<text class="t" style="font-size:6.4px;stroke-width:.28px" text-anchor="middle" transform="translate(169.52,589.54) scale(1.2,1)">#</text>
<text class="t" text-anchor="end" transform="translate(171.22,672.75) rotate(-45) scale(1.09,1.01)">siOGG1+BLM</text>
<path d="M60.9 580.9V662.8M58.2 662.8H186" stroke="#000" stroke-width="1.3" fill="none"/>
<text class="t" style="font-size:6.7px" text-anchor="end" transform="translate(57.8,666.03) scale(1.21,1.01)">0</text>
<path d="M58.2 635.67H60.9" stroke="#000" stroke-width="1.3"/>
<text class="t" style="font-size:6.7px" text-anchor="end" transform="translate(57.8,638.89) scale(1.21,1.01)">1</text>
<path d="M58.2 608.53H60.9" stroke="#000" stroke-width="1.3"/>
<text class="t" style="font-size:6.7px" text-anchor="end" transform="translate(57.8,611.76) scale(1.21,1.01)">2</text>
<path d="M58.2 581.4H60.9" stroke="#000" stroke-width="1.3"/>
<text class="t" style="font-size:6.7px" text-anchor="end" transform="translate(57.8,584.63) scale(1.21,1.01)">3</text>
<text class="t" transform="translate(69.4,586.8) scale(1.14,1.01)">A549</text>
<text class="t" text-anchor="middle" transform="translate(27.4,622.1) rotate(-90) scale(1.11,1.01)">Relative expression of</text>
<text class="t" text-anchor="middle" transform="translate(38.3,622.1) rotate(-90) scale(1.11,1.01)">LRP10 mRNA</text>
</g>
<g>
<rect x="243.95" y="628.22" width="19.68" height="31.58" fill="url(#p1)" stroke="#000" stroke-width="1.3"/>
<path d="M253.79 659.8V663" stroke="#000" stroke-width="1.3"/>
<text class="t" text-anchor="end" transform="translate(255.49,669.53) rotate(-45) scale(1.05,0.97)">NC</text>
<path d="M283.63 601.46V598.27M278.03 598.27H289.23" stroke="#000" stroke-width="1.3" fill="none"/>
<rect x="273.79" y="601.76" width="19.68" height="58.04" fill="url(#p2)" stroke="#000" stroke-width="1.3"/>
<path d="M283.63 659.8V663" stroke="#000" stroke-width="1.3"/>
<text class="t" style="font-size:11px" text-anchor="middle" x="283.63" y="600.77">*</text>
<text class="t" text-anchor="end" transform="translate(285.33,669.53) rotate(-45) scale(1.05,0.97)">siOGG1</text>
<path d="M313.47 616.44V612.62M307.87 612.62H319.07" stroke="#000" stroke-width="1.3" fill="none"/>
<rect x="303.63" y="616.74" width="19.68" height="43.06" fill="url(#p3)" stroke="#000" stroke-width="1.3"/>
<path d="M313.47 659.8V663" stroke="#000" stroke-width="1.3"/>
<text class="t" style="font-size:11px" text-anchor="middle" x="313.47" y="615.12">*</text>
<text class="t" text-anchor="end" transform="translate(315.17,669.53) rotate(-45) scale(1.05,0.97)">NC+BLM</text>
<path d="M343.31 597.63V592.53M337.71 592.53H348.91" stroke="#000" stroke-width="1.3" fill="none"/>
<rect x="333.47" y="597.93" width="19.68" height="61.87" fill="url(#p4)" stroke="#000" stroke-width="1.3"/>
<path d="M343.31 659.8V663" stroke="#000" stroke-width="1.3"/>
<text class="t" style="font-size:6.4px;stroke-width:.28px" text-anchor="middle" transform="translate(343.31,590.63) scale(1.2,1)">#</text>
<text class="t" text-anchor="end" transform="translate(345.01,669.53) rotate(-45) scale(1.05,0.97)">siOGG1+BLM</text>
<path d="M239.2 579.6V659.8M236.5 659.8H359.6" stroke="#000" stroke-width="1.3" fill="none"/>
<text class="t" style="font-size:6.7px" text-anchor="end" transform="translate(236.1,662.91) scale(1.17,0.97)">0.0</text>
<path d="M236.5 643.86H239.2" stroke="#000" stroke-width="1.3"/>
<text class="t" style="font-size:6.7px" text-anchor="end" transform="translate(236.1,646.97) scale(1.17,0.97)">0.5</text>
<path d="M236.5 627.92H239.2" stroke="#000" stroke-width="1.3"/>
<text class="t" style="font-size:6.7px" text-anchor="end" transform="translate(236.1,631.03) scale(1.17,0.97)">1.0</text>
<path d="M236.5 611.98H239.2" stroke="#000" stroke-width="1.3"/>
<text class="t" style="font-size:6.7px" text-anchor="end" transform="translate(236.1,615.09) scale(1.17,0.97)">1.5</text>
<path d="M236.5 596.04H239.2" stroke="#000" stroke-width="1.3"/>
<text class="t" style="font-size:6.7px" text-anchor="end" transform="translate(236.1,599.15) scale(1.17,0.97)">2.0</text>
<path d="M236.5 580.1H239.2" stroke="#000" stroke-width="1.3"/>
<text class="t" style="font-size:6.7px" text-anchor="end" transform="translate(236.1,583.21) scale(1.17,0.97)">2.5</text>
<text class="t" transform="translate(246.2,586.8) scale(1.1,0.97)">A549</text>
<text class="t" text-anchor="middle" transform="translate(205.3,619.95) rotate(-90) scale(1.07,0.97)">Relative expression of</text>
<text class="t" text-anchor="middle" transform="translate(216.3,619.95) rotate(-90) scale(1.07,0.97)">FILIP1L mRNA</text>
</g>
<g>
<rect x="427.15" y="635.47" width="20.32" height="26.83" fill="url(#p1)" stroke="#000" stroke-width="1.3"/>
<path d="M437.31 662.3V665.5" stroke="#000" stroke-width="1.3"/>
<text class="t" text-anchor="end" transform="translate(439.01,672.21) rotate(-45) scale(1.09,1)">NC</text>
<path d="M468.07 591.75V587.68M462.47 587.68H473.67" stroke="#000" stroke-width="1.3" fill="none"/>
<rect x="457.91" y="592.05" width="20.32" height="70.25" fill="url(#p2)" stroke="#000" stroke-width="1.3"/>
<path d="M468.07 662.3V665.5" stroke="#000" stroke-width="1.3"/>
<text class="t" style="font-size:11px" text-anchor="middle" x="468.07" y="590.18">*</text>
<text class="t" text-anchor="end" transform="translate(469.77,672.21) rotate(-45) scale(1.09,1)">siOGG1</text>
<path d="M498.83 635.71V632.18M493.23 632.18H504.43" stroke="#000" stroke-width="1.3" fill="none"/>
<rect x="488.67" y="636.01" width="20.32" height="26.29" fill="url(#p3)" stroke="#000" stroke-width="1.3"/>
<path d="M498.83 662.3V665.5" stroke="#000" stroke-width="1.3"/>
<text class="t" text-anchor="end" transform="translate(500.53,672.21) rotate(-45) scale(1.09,1)">NC+BLM</text>
<path d="M529.59 595.28V590.13M523.99 590.13H535.19" stroke="#000" stroke-width="1.3" fill="none"/>
<rect x="519.43" y="595.58" width="20.32" height="66.72" fill="url(#p4)" stroke="#000" stroke-width="1.3"/>
<path d="M529.59 662.3V665.5" stroke="#000" stroke-width="1.3"/>
<text class="t" style="font-size:6.4px;stroke-width:.28px" text-anchor="middle" transform="translate(529.59,588.23) scale(1.2,1)">#</text>
<text class="t" text-anchor="end" transform="translate(531.29,672.21) rotate(-45) scale(1.09,1)">siOGG1+BLM</text>
<path d="M422.6 580.4V662.3M419.9 662.3H545.9" stroke="#000" stroke-width="1.3" fill="none"/>
<text class="t" style="font-size:6.7px" text-anchor="end" transform="translate(419.5,665.51) scale(1.2,1)">0</text>
<path d="M419.9 635.17H422.6" stroke="#000" stroke-width="1.3"/>
<text class="t" style="font-size:6.7px" text-anchor="end" transform="translate(419.5,638.37) scale(1.2,1)">1</text>
<path d="M419.9 608.03H422.6" stroke="#000" stroke-width="1.3"/>
<text class="t" style="font-size:6.7px" text-anchor="end" transform="translate(419.5,611.24) scale(1.2,1)">2</text>
<path d="M419.9 580.9H422.6" stroke="#000" stroke-width="1.3"/>
<text class="t" style="font-size:6.7px" text-anchor="end" transform="translate(419.5,584.11) scale(1.2,1)">3</text>
<text class="t" transform="translate(428.6,586.8) scale(1.13,1)">A549</text>
<text class="t" text-anchor="middle" transform="translate(388.3,621.6) rotate(-90) scale(1.11,1)">Relative expression of</text>
<text class="t" text-anchor="middle" transform="translate(398.7,621.6) rotate(-90) scale(1.11,1)">ELMOD1 mRNA</text>
</g>
<g>
<rect x="614.65" y="630.04" width="20.17" height="32.26" fill="url(#p1)" stroke="#000" stroke-width="1.3"/>
<path d="M624.74 662.3V665.5" stroke="#000" stroke-width="1.3"/>
<text class="t" text-anchor="end" transform="translate(626.44,672.17) rotate(-45) scale(1.08,0.99)">NC</text>
<path d="M655.28 589.69V585.46M649.68 585.46H660.88" stroke="#000" stroke-width="1.3" fill="none"/>
<rect x="645.19" y="589.99" width="20.17" height="72.31" fill="url(#p2)" stroke="#000" stroke-width="1.3"/>
<path d="M655.28 662.3V665.5" stroke="#000" stroke-width="1.3"/>
<text class="t" style="font-size:11px" text-anchor="middle" x="655.28" y="587.96">*</text>
<text class="t" text-anchor="end" transform="translate(656.98,672.17) rotate(-45) scale(1.08,0.99)">siOGG1</text>
<path d="M685.82 628.76V625.51M680.22 625.51H691.42" stroke="#000" stroke-width="1.3" fill="none"/>
<rect x="675.74" y="629.06" width="20.17" height="33.24" fill="url(#p3)" stroke="#000" stroke-width="1.3"/>
<path d="M685.82 662.3V665.5" stroke="#000" stroke-width="1.3"/>
<text class="t" text-anchor="end" transform="translate(687.52,672.17) rotate(-45) scale(1.08,0.99)">NC+BLM</text>
<path d="M716.36 589.69V587.09M710.76 587.09H721.96" stroke="#000" stroke-width="1.3" fill="none"/>
<rect x="706.28" y="589.99" width="20.17" height="72.31" fill="url(#p4)" stroke="#000" stroke-width="1.3"/>
<path d="M716.36 662.3V665.5" stroke="#000" stroke-width="1.3"/>
<text class="t" style="font-size:6.4px;stroke-width:.28px" text-anchor="middle" transform="translate(716.36,585.19) scale(1.2,1)">#</text>
<text class="t" text-anchor="end" transform="translate(718.06,672.17) rotate(-45) scale(1.08,0.99)">siOGG1+BLM</text>
<path d="M609.4 580.4V662.3M606.7 662.3H732.9" stroke="#000" stroke-width="1.3" fill="none"/>
<text class="t" style="font-size:6.7px" text-anchor="end" transform="translate(606.3,665.48) scale(1.19,0.99)">0.0</text>
<path d="M606.7 646.02H609.4" stroke="#000" stroke-width="1.3"/>
<text class="t" style="font-size:6.7px" text-anchor="end" transform="translate(606.3,649.2) scale(1.19,0.99)">0.5</text>
<path d="M606.7 629.74H609.4" stroke="#000" stroke-width="1.3"/>
<text class="t" style="font-size:6.7px" text-anchor="end" transform="translate(606.3,632.92) scale(1.19,0.99)">1.0</text>
<path d="M606.7 613.46H609.4" stroke="#000" stroke-width="1.3"/>
<text class="t" style="font-size:6.7px" text-anchor="end" transform="translate(606.3,616.64) scale(1.19,0.99)">1.5</text>
<path d="M606.7 597.18H609.4" stroke="#000" stroke-width="1.3"/>
<text class="t" style="font-size:6.7px" text-anchor="end" transform="translate(606.3,600.36) scale(1.19,0.99)">2.0</text>
<path d="M606.7 580.9H609.4" stroke="#000" stroke-width="1.3"/>
<text class="t" style="font-size:6.7px" text-anchor="end" transform="translate(606.3,584.08) scale(1.19,0.99)">2.5</text>
<text class="t" transform="translate(615.6,586.8) scale(1.12,0.99)">A549</text>
<text class="t" text-anchor="middle" transform="translate(569.1,621.6) rotate(-90) scale(1.1,0.99)">Relative expression of</text>
<text class="t" text-anchor="middle" transform="translate(579,621.6) rotate(-90) scale(1.1,0.99)">ARRDC4 mRNA</text>
</g>
<g>
<rect x="66.45" y="774.73" width="20.46" height="26.87" fill="url(#p1)" stroke="#000" stroke-width="1.3"/>
<path d="M76.68 801.6V804.8" stroke="#000" stroke-width="1.3"/>
<text class="t" text-anchor="end" transform="translate(78.38,811.55) rotate(-45) scale(1.09,1.01)">NC</text>
<path d="M107.63 734.23V731.65M102.03 731.65H113.23" stroke="#000" stroke-width="1.3" fill="none"/>
<rect x="97.4" y="734.53" width="20.46" height="67.07" fill="url(#p2)" stroke="#000" stroke-width="1.3"/>
<path d="M107.63 801.6V804.8" stroke="#000" stroke-width="1.3"/>
<text class="t" style="font-size:11px" text-anchor="middle" x="107.63" y="734.15">*</text>
<text class="t" text-anchor="end" transform="translate(109.33,811.55) rotate(-45) scale(1.09,1.01)">siOGG1</text>
<path d="M138.57 772.8V770.49M132.97 770.49H144.17" stroke="#000" stroke-width="1.3" fill="none"/>
<rect x="128.35" y="773.1" width="20.46" height="28.5" fill="url(#p3)" stroke="#000" stroke-width="1.3"/>
<path d="M138.57 801.6V804.8" stroke="#000" stroke-width="1.3"/>
<text class="t" text-anchor="end" transform="translate(140.27,811.55) rotate(-45) scale(1.09,1.01)">NC+BLM</text>
<path d="M169.52 745.37V742.11M163.92 742.11H175.12" stroke="#000" stroke-width="1.3" fill="none"/>
<rect x="159.29" y="745.66" width="20.46" height="55.94" fill="url(#p4)" stroke="#000" stroke-width="1.3"/>
<path d="M169.52 801.6V804.8" stroke="#000" stroke-width="1.3"/>
<text class="t" style="font-size:6.4px;stroke-width:.28px" text-anchor="middle" transform="translate(169.52,740.21) scale(1.2,1)">#</text>
<text class="t" text-anchor="end" transform="translate(171.22,811.55) rotate(-45) scale(1.09,1.01)">siOGG1+BLM</text>
<path d="M60.9 719.6V801.6M58.2 801.6H186" stroke="#000" stroke-width="1.3" fill="none"/>
<text class="t" style="font-size:6.7px" text-anchor="end" transform="translate(57.8,804.83) scale(1.21,1.01)">0</text>
<path d="M58.2 774.43H60.9" stroke="#000" stroke-width="1.3"/>
<text class="t" style="font-size:6.7px" text-anchor="end" transform="translate(57.8,777.66) scale(1.21,1.01)">1</text>
<path d="M58.2 747.27H60.9" stroke="#000" stroke-width="1.3"/>
<text class="t" style="font-size:6.7px" text-anchor="end" transform="translate(57.8,750.49) scale(1.21,1.01)">2</text>
<path d="M58.2 720.1H60.9" stroke="#000" stroke-width="1.3"/>
<text class="t" style="font-size:6.7px" text-anchor="end" transform="translate(57.8,723.33) scale(1.21,1.01)">3</text>
<text class="t" transform="translate(69.4,726.8) scale(1.14,1.01)">A549</text>
<text class="t" text-anchor="middle" transform="translate(26.6,760.85) rotate(-90) scale(1.11,1.01)">Relative expression of</text>
<text class="t" text-anchor="middle" transform="translate(38,760.85) rotate(-90) scale(1.11,1.01)">TMEM30A mRNA</text>
</g>
<g>
<rect x="245.45" y="747.57" width="20.17" height="54.03" fill="url(#p1)" stroke="#000" stroke-width="1.3"/>
<path d="M255.54 801.6V804.8" stroke="#000" stroke-width="1.3"/>
<text class="t" text-anchor="end" transform="translate(257.24,811.47) rotate(-45) scale(1.08,0.99)">NC</text>
<path d="M286.08 744.55V738.85M280.48 738.85H291.68" stroke="#000" stroke-width="1.3" fill="none"/>
<rect x="275.99" y="744.85" width="20.17" height="56.75" fill="url(#p2)" stroke="#000" stroke-width="1.3"/>
<path d="M286.08 801.6V804.8" stroke="#000" stroke-width="1.3"/>
<text class="t" text-anchor="end" transform="translate(287.78,811.47) rotate(-45) scale(1.08,0.99)">siOGG1</text>
<path d="M316.62 747.27V739.39M311.02 739.39H322.22" stroke="#000" stroke-width="1.3" fill="none"/>
<rect x="306.54" y="747.57" width="20.17" height="54.03" fill="url(#p3)" stroke="#000" stroke-width="1.3"/>
<path d="M316.62 801.6V804.8" stroke="#000" stroke-width="1.3"/>
<text class="t" text-anchor="end" transform="translate(318.32,811.47) rotate(-45) scale(1.08,0.99)">NC+BLM</text>
<path d="M347.16 742.65V733.41M341.56 733.41H352.76" stroke="#000" stroke-width="1.3" fill="none"/>
<rect x="337.08" y="742.95" width="20.17" height="58.65" fill="url(#p4)" stroke="#000" stroke-width="1.3"/>
<path d="M347.16 801.6V804.8" stroke="#000" stroke-width="1.3"/>
<text class="t" text-anchor="end" transform="translate(348.86,811.47) rotate(-45) scale(1.08,0.99)">siOGG1+BLM</text>
<path d="M239.2 719.6V801.6M236.5 801.6H363.9" stroke="#000" stroke-width="1.3" fill="none"/>
<text class="t" style="font-size:6.7px" text-anchor="end" transform="translate(236.1,804.78) scale(1.19,0.99)">0.0</text>
<path d="M236.5 774.43H239.2" stroke="#000" stroke-width="1.3"/>
<text class="t" style="font-size:6.7px" text-anchor="end" transform="translate(236.1,777.62) scale(1.19,0.99)">0.5</text>
<path d="M236.5 747.27H239.2" stroke="#000" stroke-width="1.3"/>
<text class="t" style="font-size:6.7px" text-anchor="end" transform="translate(236.1,750.45) scale(1.19,0.99)">1.0</text>
<path d="M236.5 720.1H239.2" stroke="#000" stroke-width="1.3"/>
<text class="t" style="font-size:6.7px" text-anchor="end" transform="translate(236.1,723.28) scale(1.19,0.99)">1.5</text>
<text class="t" transform="translate(246.9,726.8) scale(1.12,0.99)">A549</text>
<text class="t" text-anchor="middle" transform="translate(205.3,760.85) rotate(-90) scale(1.1,0.99)">Relative expression of</text>
<text class="t" text-anchor="middle" transform="translate(216.3,760.85) rotate(-90) scale(1.1,0.99)">PDLIM1 mRNA</text>
</g>
<g>
<rect x="427.95" y="761.15" width="20.27" height="40.45" fill="url(#p1)" stroke="#000" stroke-width="1.3"/>
<path d="M438.08 801.6V804.8" stroke="#000" stroke-width="1.3"/>
<text class="t" text-anchor="end" transform="translate(439.78,811.49) rotate(-45) scale(1.08,1)">NC</text>
<path d="M468.76 742.68V733.14M463.16 733.14H474.36" stroke="#000" stroke-width="1.3" fill="none"/>
<rect x="458.63" y="742.98" width="20.27" height="58.62" fill="url(#p2)" stroke="#000" stroke-width="1.3"/>
<path d="M468.76 801.6V804.8" stroke="#000" stroke-width="1.3"/>
<text class="t" text-anchor="end" transform="translate(470.46,811.49) rotate(-45) scale(1.08,1)">siOGG1</text>
<path d="M499.44 761.66V755.72M493.84 755.72H505.04" stroke="#000" stroke-width="1.3" fill="none"/>
<rect x="489.31" y="761.96" width="20.27" height="39.64" fill="url(#p3)" stroke="#000" stroke-width="1.3"/>
<path d="M499.44 801.6V804.8" stroke="#000" stroke-width="1.3"/>
<text class="t" text-anchor="end" transform="translate(501.14,811.49) rotate(-45) scale(1.08,1)">NC+BLM</text>
<path d="M530.12 759.63V755.14M524.52 755.14H535.72" stroke="#000" stroke-width="1.3" fill="none"/>
<rect x="519.98" y="759.93" width="20.27" height="41.67" fill="url(#p4)" stroke="#000" stroke-width="1.3"/>
<path d="M530.12 801.6V804.8" stroke="#000" stroke-width="1.3"/>
<text class="t" text-anchor="end" transform="translate(531.82,811.49) rotate(-45) scale(1.08,1)">siOGG1+BLM</text>
<path d="M422.6 719.6V801.6M419.9 801.6H545.9" stroke="#000" stroke-width="1.3" fill="none"/>
<text class="t" style="font-size:6.7px" text-anchor="end" transform="translate(419.5,804.8) scale(1.2,1)">0.0</text>
<path d="M419.9 781.23H422.6" stroke="#000" stroke-width="1.3"/>
<text class="t" style="font-size:6.7px" text-anchor="end" transform="translate(419.5,784.42) scale(1.2,1)">0.5</text>
<path d="M419.9 760.85H422.6" stroke="#000" stroke-width="1.3"/>
<text class="t" style="font-size:6.7px" text-anchor="end" transform="translate(419.5,764.05) scale(1.2,1)">1.0</text>
<path d="M419.9 740.48H422.6" stroke="#000" stroke-width="1.3"/>
<text class="t" style="font-size:6.7px" text-anchor="end" transform="translate(419.5,743.67) scale(1.2,1)">1.5</text>
<path d="M419.9 720.1H422.6" stroke="#000" stroke-width="1.3"/>
<text class="t" style="font-size:6.7px" text-anchor="end" transform="translate(419.5,723.3) scale(1.2,1)">2.0</text>
<text class="t" transform="translate(429.4,726.8) scale(1.13,1)">A549</text>
<text class="t" text-anchor="middle" transform="translate(382.8,760.85) rotate(-90) scale(1.1,1)">Relative expression of</text>
<text class="t" text-anchor="middle" transform="translate(393.2,760.85) rotate(-90) scale(1.1,1)">CCND3 mRNA</text>
</g>
</svg>
</body></html>
